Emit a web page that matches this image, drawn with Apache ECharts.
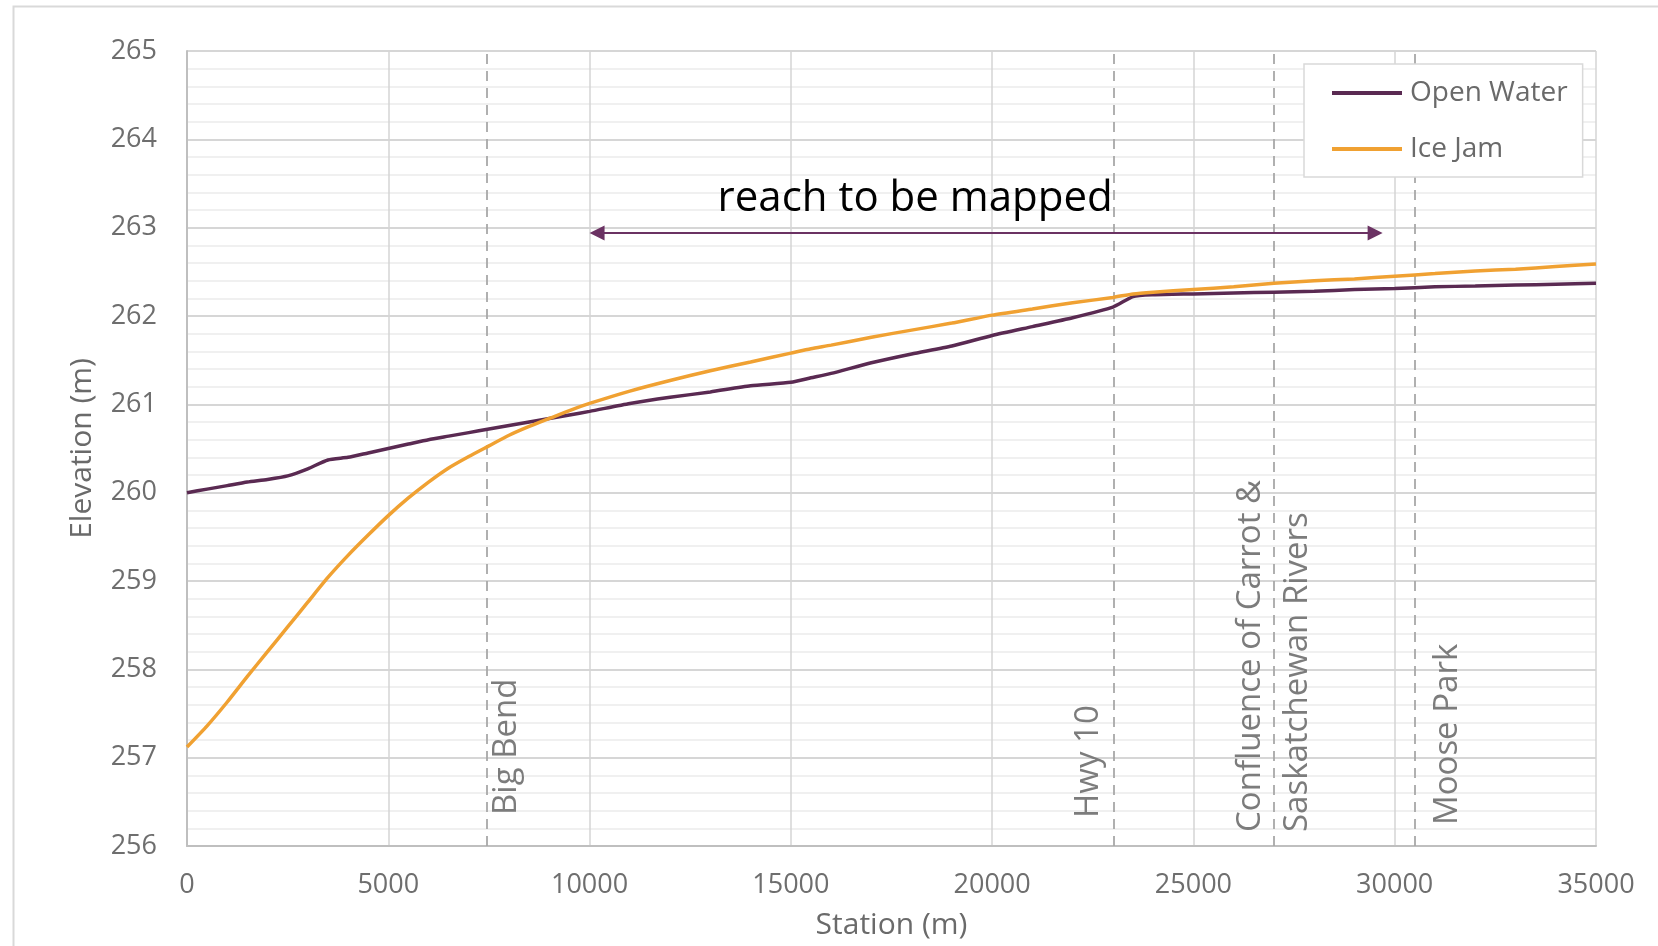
<!DOCTYPE html>
<html>
<head>
<meta charset="utf-8">
<script src="https://cdn.jsdelivr.net/npm/echarts@6/dist/echarts.min.js"></script>
<style>
  html, body { margin: 0; padding: 0; background: #ffffff; }
  #chart { width: 1658px; height: 946px; }
</style>
</head>
<body>
<div id="chart"></div>
<script>
// ---------------- data ----------------
const stations = [0, 500, 1000, 1500, 2000, 2500, 3000, 3500, 4000, 4500, 5000, 5500, 6000, 6500, 7000, 7500, 8000, 8500, 9000, 9500,
  10000, 11000, 12000, 13000, 14000, 15000, 15500, 16000, 17000, 18000, 19000, 20000, 21000, 22000, 23000, 23500, 24000,
  25000, 26000, 27000, 28000, 29000, 30000, 31000, 32000, 33000, 34000, 35000];

const openWater = [260.00, 260.04, 260.08, 260.12, 260.15, 260.19, 260.27, 260.37, 260.40, 260.45, 260.50, 260.55, 260.60, 260.64, 260.68, 260.72, 260.76, 260.80, 260.84, 260.88,
  260.92, 261.01, 261.08, 261.14, 261.21, 261.25, 261.30, 261.35, 261.47, 261.57, 261.66, 261.78, 261.88, 261.98, 262.10, 262.22, 262.24,
  262.25, 262.26, 262.27, 262.28, 262.30, 262.31, 262.33, 262.34, 262.35, 262.36, 262.37];

const iceJam = [257.12, 257.36, 257.63, 257.92, 258.20, 258.48, 258.76, 259.04, 259.29, 259.52, 259.74, 259.94, 260.12, 260.28, 260.41, 260.53, 260.65, 260.75, 260.84, 260.93,
  261.01, 261.15, 261.27, 261.38, 261.48, 261.58, 261.63, 261.67, 261.76, 261.84, 261.92, 262.01, 262.08, 262.15, 262.21, 262.25, 262.27,
  262.30, 262.33, 262.37, 262.40, 262.42, 262.45, 262.48, 262.51, 262.53, 262.56, 262.59];

const seriesNames = ['Open Water', 'Ice Jam'];

const markerStations = [7450, 23030, 27000, 30500];
const markerNames = ['Big Bend', 'Hwy 10', 'Confluence of Carrot &\nSaskatchewan Rivers', 'Moose Park'];

const reachStart = 10000;
const reachEnd = 29700;
const reachElevation = 262.94;
const reachLabel = 'reach to be mapped';

const xTicks = { min: 0, max: 35000, interval: 5000 };
const yTicks = { min: 256, max: 265, interval: 1 };
const xAxisTitle = 'Station (m)';
const yAxisTitle = 'Elevation (m)';

// ---------------- chart ----------------
const FONT = '"Open Sans", "Noto Sans", sans-serif';
const colors = ['#5a2a52', '#f0a132'];
const ARROW = 15;

const chart = echarts.init(document.getElementById('chart'), null, { renderer: 'canvas' });

const pairs = (ys) => stations.map((s, i) => [s, ys[i]]);

chart.setOption({
  backgroundColor: '#ffffff',
  animation: false,
  grid: { left: 187, right: 62, top: 51, bottom: 100, containLabel: false },
  legend: {
    orient: 'vertical',
    left: 1304, top: 64,
    padding: [15, 15, 14, 28],
    backgroundColor: '#ffffff',
    borderColor: '#d9d9d9', borderWidth: 1.5,
    icon: 'rect',
    itemWidth: 70, itemHeight: 4, itemGap: 28,
    textStyle: { fontFamily: FONT, fontSize: 28, color: '#6a6a6a', lineHeight: 28, padding: [0, 0, 0, 3] },
    data: seriesNames
  },
  xAxis: {
    type: 'value',
    min: xTicks.min, max: xTicks.max, interval: xTicks.interval,
    name: xAxisTitle, nameLocation: 'middle', nameGap: 64,
    nameTextStyle: { fontFamily: FONT, fontSize: 30, color: '#6a6a6a' },
    axisLine: { show: true, lineStyle: { color: '#bfbfbf', width: 2 } },
    axisTick: { show: false },
    axisLabel: { fontFamily: FONT, fontSize: 27, color: '#6e6e6e', margin: 26, formatter: (v) => String(v) },
    splitLine: { show: true, lineStyle: { color: '#d4d4d4', width: 1.5 } }
  },
  yAxis: {
    type: 'value',
    min: yTicks.min, max: yTicks.max, interval: yTicks.interval,
    name: yAxisTitle, nameLocation: 'middle', nameGap: 90,
    nameTextStyle: { fontFamily: FONT, fontSize: 30, color: '#6a6a6a' },
    axisLine: { show: true, lineStyle: { color: '#bfbfbf', width: 2 } },
    axisTick: { show: false },
    axisLabel: { fontFamily: FONT, fontSize: 27, color: '#6e6e6e', margin: 30, formatter: (v) => String(v) },
    splitLine: { show: true, lineStyle: { color: '#d6d6d6', width: 2 } },
    minorTick: { show: false, splitNumber: 5 },
    minorSplitLine: { show: true, lineStyle: { color: '#ececec', width: 1.5 } }
  },
  series: [
    {
      name: seriesNames[0], type: 'line', data: pairs(openWater),
      showSymbol: false, symbol: 'none', smooth: 0.2, z: 4,
      itemStyle: { color: colors[0] },
      lineStyle: { color: colors[0], width: 3.5 },
      markLine: {
        silent: true, symbol: ['none', 'none'], z: 2,
        label: { show: false },
        lineStyle: { color: '#a8a8a8', width: 1.8, type: [10, 7] },
        data: markerStations.map(s => ({ xAxis: s }))
      }
    },
    {
      name: seriesNames[1], type: 'line', data: pairs(iceJam),
      showSymbol: false, symbol: 'none', smooth: 0.2, z: 5,
      itemStyle: { color: colors[1] },
      lineStyle: { color: colors[1], width: 3.5 }
    }
  ]
});

// annotations positioned through the chart's own scales
const px = (x, y) => chart.convertToPixel({ xAxisIndex: 0, yAxisIndex: 0 }, [x, y]);
const a0 = px(reachStart, reachElevation);
const a1 = px(reachEnd, reachElevation);

const labelShift = [[20, -31], [-26, -28], [0, -14], [33, -21]];
const graphics = [
  {
    type: 'rect', left: 11, top: 4, silent: true, z: -10,
    shape: { width: 1700, height: 1000 },
    style: { fill: null, stroke: '#d9d9d9', lineWidth: 2 }
  }
];
markerStations.forEach((s, i) => {
  const p = px(s, yTicks.min);
  graphics.push({
    type: 'text', x: p[0] + labelShift[i][0], y: p[1] + labelShift[i][1],
    rotation: Math.PI / 2, z: 10, silent: true,
    style: {
      text: markerNames[i], font: '33px ' + FONT, fill: '#7c7c7c',
      textAlign: 'left', textVerticalAlign: 'middle', lineHeight: 47
    }
  });
});
graphics.push({
  type: 'text', x: a0[0] + 128, y: a0[1] - 34, z: 10, silent: true,
  style: { text: reachLabel, font: '42px ' + FONT, fill: '#000000', textAlign: 'left', textVerticalAlign: 'middle' }
});

chart.setOption({
  graphic: graphics,
  series: [{}, {
    markLine: {
      silent: true, symbol: ['triangle', 'triangle'], symbolSize: [ARROW, ARROW], z: 6,
      label: { show: false },
      lineStyle: { color: '#6b3263', width: 2, type: 'solid' },
      itemStyle: { color: '#6b3263' },
      data: [[{ x: a0[0] + ARROW / 2, y: a0[1] }, { x: a1[0] - ARROW / 2, y: a1[1] }]]
    }
  }]
});
</script>
</body>
</html>
